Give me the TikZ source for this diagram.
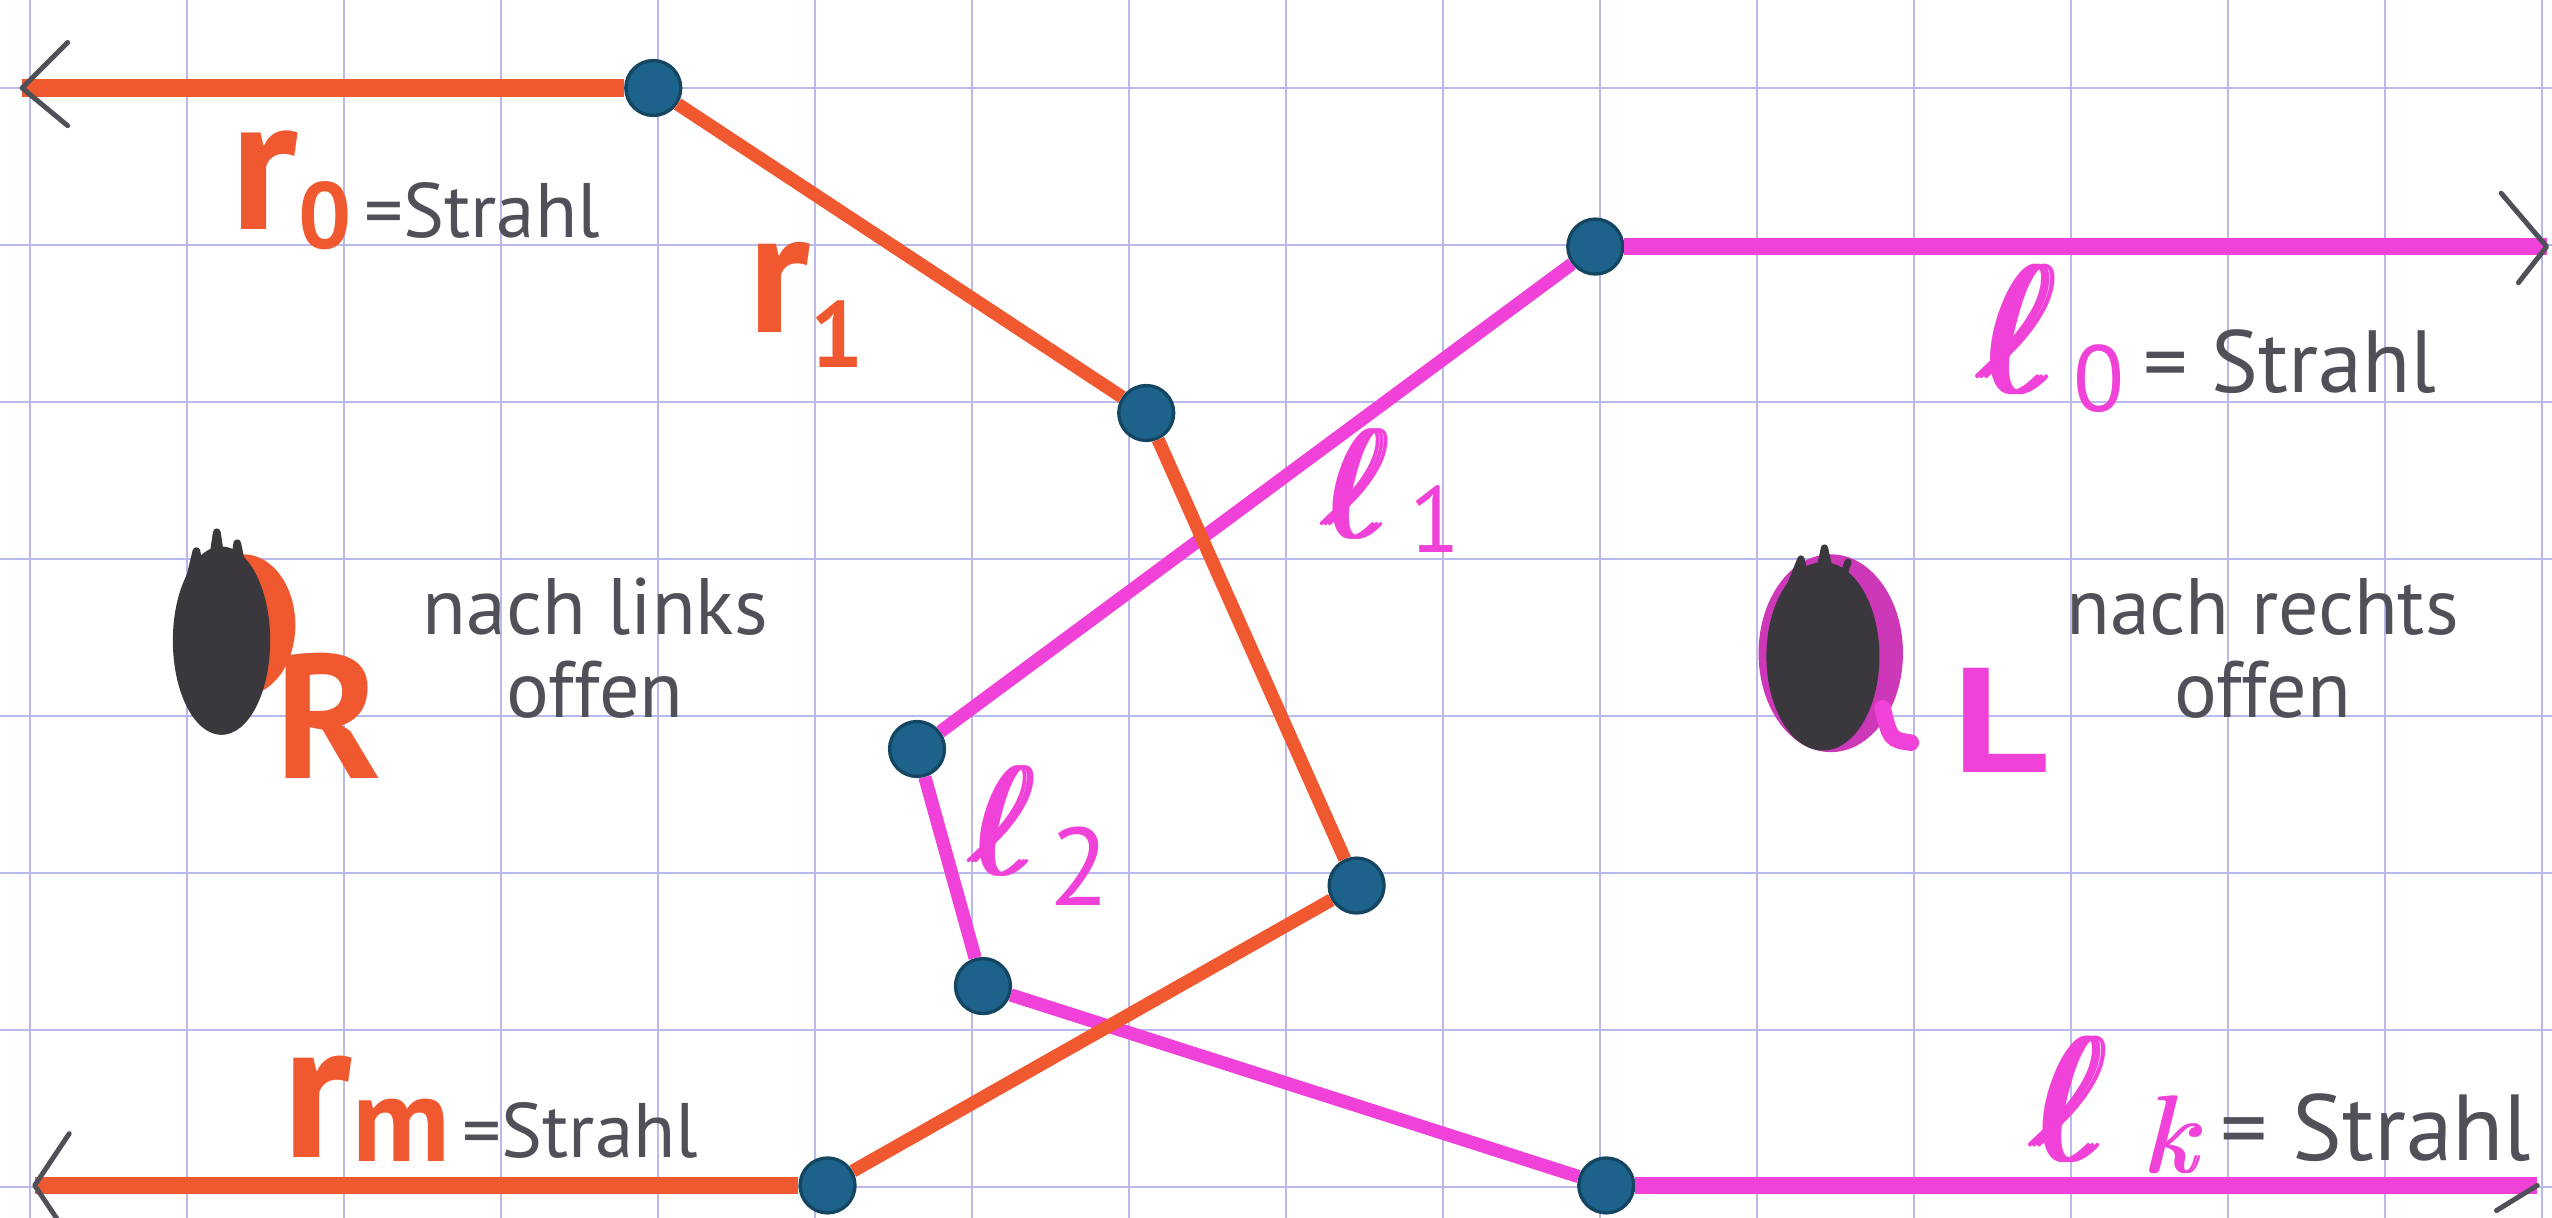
\documentclass[tikz,border=0pt]{standalone}
\usepackage{fontspec}
\newfontfamily\hand{PT Sans}
\usetikzlibrary{calc}
\definecolor{redc}{RGB}{240,88,48}
\definecolor{pinkc}{RGB}{240,66,216}
\definecolor{dotc}{RGB}{28,98,138}
\definecolor{gridc}{RGB}{185,185,236}
\definecolor{penc}{RGB}{80,80,88}
\definecolor{blobc}{RGB}{58,56,60}
\newcommand\fatell{\rlap{$\ell$}\kern0.25pt\rlap{$\ell$}\kern0.25pt$\ell$}
\newcommand\fatk{\rlap{$k$}\kern0.3pt$k$}
\begin{document}
\begin{tikzpicture}[x=1cm,y=1cm,
  vtx/.style={circle, fill=dotc, draw=dotc!70!black, line width=0.6pt, inner sep=0pt, minimum size=0.35cm},
  rray/.style={draw=redc, line width=3.2pt},
  rseg/.style={draw=redc, line width=2.4pt},
  pray/.style={draw=pinkc, line width=3.2pt},
  pseg/.style={draw=pinkc, line width=2.4pt},
  barb/.style={draw=penc, line width=0.9pt, line cap=round, line join=round},
  gridline/.style={draw=gridc, line width=0.45pt},
  note/.style={text=penc, font=\hand\fontsize{14.5}{15}\selectfont, align=center, inner sep=0pt},
  lab/.style={anchor=base west, inner sep=0pt},
]
\useasboundingbox (-0.191,-7.197) rectangle (16.064,0.5605);
\fill[white] (-0.191,-7.197) rectangle (16.064,0.5605);
% grid paper
\foreach \i in {0,...,16} \draw[gridline] (\i,-7.197) -- (\i,0.5605);
\foreach \j in {0,...,7} \draw[gridline] (-0.191,-\j) -- (16.064,-\j);

% vertices
\node[vtx] (A) at (3.97,0) {};
\node[vtx] (B) at (7.11,-2.07) {};
\node[vtx] (C) at (8.45,-5.08) {};
\node[vtx] (G) at (5.08,-6.99) {};
\node[vtx] (F) at (9.97,-1.01) {};
\node[vtx] (D) at (5.65,-4.21) {};
\node[vtx] (E) at (6.07,-5.72) {};
\node[vtx] (H) at (10.04,-6.99) {};
% free ends of the rays
\coordinate (r0end) at (-0.05,0);
\coordinate (l0end) at (16.03,-1.01);
\coordinate (rmend) at (0.03,-6.99);
\coordinate (lkend) at (15.97,-6.99);

% pink chain (l)
\draw[pray] (F) -- (l0end);
\draw[pseg] (F) -- (D);
\draw[pseg] (D) -- (E);
\draw[pseg] (E) -- (H);
\draw[pray] (H) -- (lkend);
% red chain (r)
\draw[rray] (A) -- (r0end);
\draw[rseg] (A) -- (B);
\draw[rseg] (B) -- (C);
\draw[rseg] (C) -- (G);
\draw[rray] (G) -- (rmend);

% arrow barbs
\draw[barb, shift={(r0end)}] (0.29,0.29) -- (0,0) -- (0.29,-0.24);
\draw[barb, shift={(l0end)}] (-0.29,0.34) -- (0,0) -- (-0.18,-0.23);
\draw[barb, shift={(rmend)}] (0.22,0.33) -- (0,0) -- (0.22,-0.33);
\draw[barb, shift={(lkend)}] (0,0) -- (-0.26,-0.16);

% labels
\node[lab] (lr0) at (1.27,-0.9) {\hand\bfseries\color{redc}\fontsize{35}{35}\selectfont r\raisebox{-0.12cm}{\fontsize{17}{17}\selectfont 0}\color{penc}\mdseries\fontsize{14}{14}\selectfont\raisebox{-0.05cm}{\,=Strahl}};
\node[lab] (lr1) at (4.57,-1.56) {\hand\bfseries\color{redc}\fontsize{32}{32}\selectfont r\raisebox{-0.22cm}{\fontsize{17}{17}\selectfont 1}};
\node[lab, text=pinkc] (ll1) at (8.2,-2.86) {\scalebox{2.8}{\fatell}\hspace{0.12cm}\raisebox{-0.1cm}{\hand\fontsize{17}{17}\selectfont 1}};
\node[lab, text=pinkc] (ll2) at (5.95,-5.01) {\scalebox{2.8}{\fatell}\hspace{0.08cm}\raisebox{-0.2cm}{\hand\fontsize{20}{20}\selectfont 2}};
\node[lab] (ll0) at (12.37,-1.94) {\color{pinkc}\scalebox{3.3}{\fatell}\hspace{0.1cm}\raisebox{-0.12cm}{\hand\fontsize{17}{17}\selectfont 0}\color{penc}\hand\fontsize{16}{16}\selectfont\hspace{0.12cm}= Strahl};
\node[lab] (llk) at (12.71,-6.83) {\color{pinkc}\scalebox{3.2}{\fatell}\hspace{0.22cm}\raisebox{-0.08cm}{\scalebox{2.0}{\fatk}}\color{penc}\hand\fontsize{17}{17}\selectfont\hspace{0.08cm}= Strahl};
\node[lab] (lrm) at (1.6,-6.81) {\hand\bfseries\color{redc}\fontsize{36}{36}\selectfont r\raisebox{-0.03cm}{\fontsize{22}{22}\selectfont m}\color{penc}\mdseries\fontsize{14}{14}\selectfont\,=Strahl};

% region R (open to the left)
\fill[redc] (1.36,-3.42) ellipse (0.33 and 0.45);
\fill[blobc] (1.22,-3.52) ellipse (0.31 and 0.6);
\draw[blobc, line width=1.4pt, line cap=round, line join=round]
  (1.0,-3.2) -- (1.06,-2.95) -- (1.12,-3.3) -- (1.19,-2.83) -- (1.26,-3.3) -- (1.32,-2.9) -- (1.38,-3.2);
\node[text=redc, font=\hand\bfseries\fontsize{32}{32}\selectfont, inner sep=0pt] (R) at (1.9,-4.0) {R};
\node[note] (nl) at (3.6,-3.57) {nach links\\offen};

% region L (open to the right)
\fill[pinkc!85!black] (11.47,-3.6) ellipse (0.46 and 0.63);
\fill[blobc] (11.42,-3.62) ellipse (0.36 and 0.6);
\draw[blobc, line width=1.3pt, line cap=round, line join=round]
  (11.2,-3.2) -- (11.28,-3.0) -- (11.35,-3.3) -- (11.43,-2.93) -- (11.5,-3.25) -- (11.58,-3.02);
\draw[pinkc, line width=3pt, line cap=round] (11.8,-3.95) .. controls (11.85,-4.15) .. (11.98,-4.17);
\node[text=pinkc, font=\hand\bfseries\fontsize{27}{27}\selectfont, inner sep=0pt] (L) at (12.55,-4.03) {\scalebox{1.25}[1]{L}};
\node[note] (nr) at (14.22,-3.57) {nach rechts\\offen};
\end{tikzpicture}
\end{document}
